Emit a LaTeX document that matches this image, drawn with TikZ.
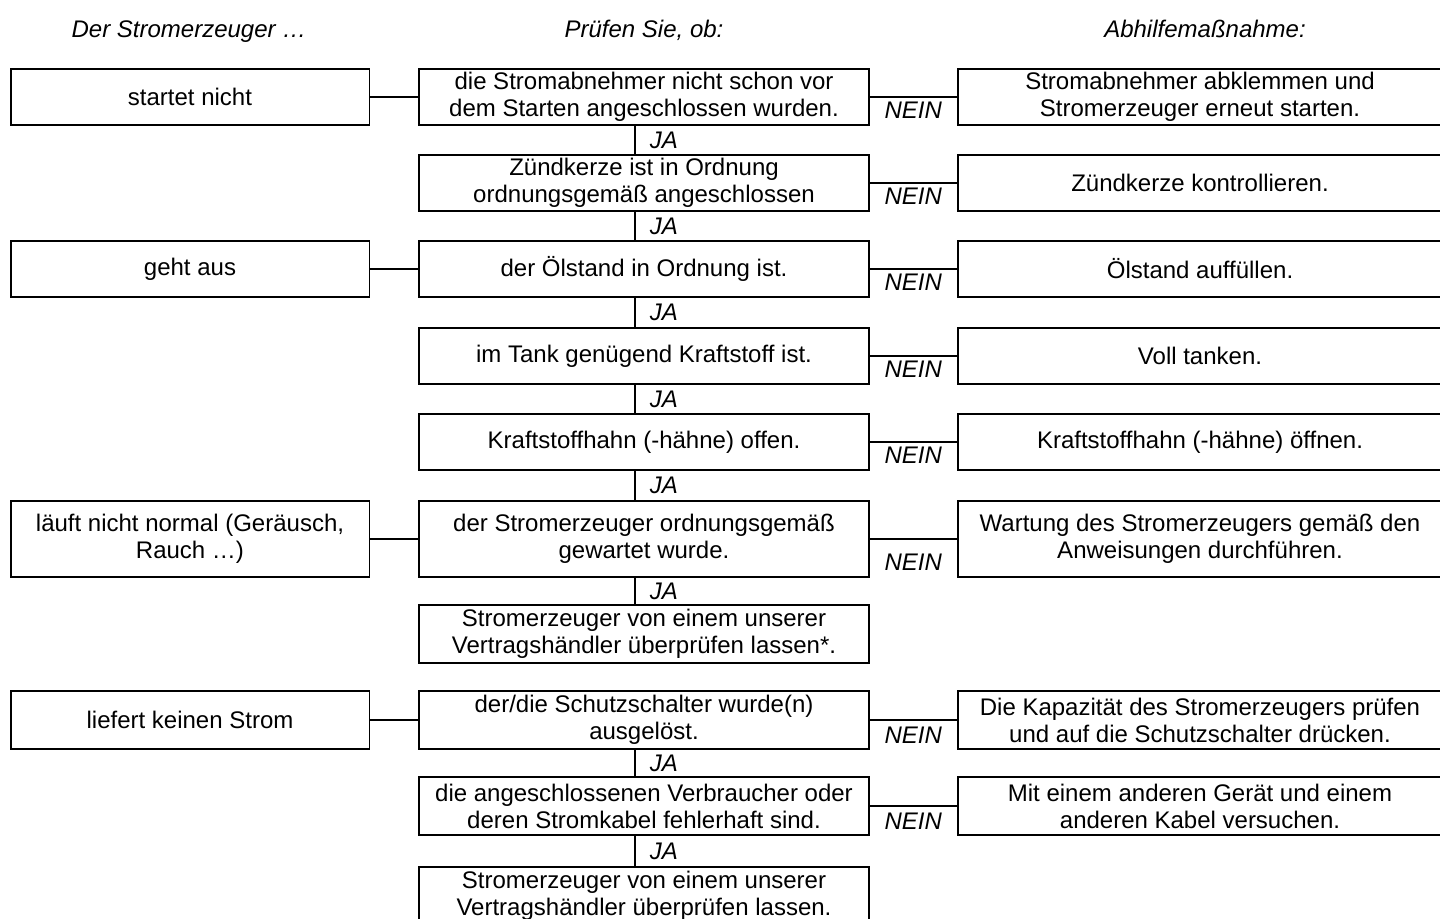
\documentclass[tikz,border=0pt]{standalone}
\usepackage{fontspec}
\setmainfont{Liberation Sans}
\usetikzlibrary{calc}
\newcommand{\chartfont}{\fontsize{13.66pt}{15.37pt}\selectfont}

\tikzset{
  box/.style={draw, line width=1.1pt, align=center, inner sep=0pt, outer sep=0pt,
              minimum height=1.12cm},
  lbox/.style={box, minimum width=7.18cm},
  mbox/.style={box, minimum width=9cm},
  rbox/.style={box, minimum width=9.7cm},
  head/.style={anchor=base, font=\chartfont\itshape},
  ja/.style={anchor=west, inner sep=0pt, xshift=0.28cm, font=\chartfont\itshape},
  nein/.style={anchor=base, inner sep=0pt, font=\chartfont\itshape},
}

\begin{document}
\begin{tikzpicture}[x=0.02cm, y=-0.02cm, font=\chartfont, line width=1.1pt]
  \clip (0,0) rectangle (1440,919);
  % column headings
  \node[head] (h1) at (189,38) {Der Stromerzeuger …};
  \node[head] (h2) at (644,38) {Prüfen Sie, ob:};
  \node[head] (h3) at (1205,38) {Abhilfemaßnahme:};
  % symptoms
  \node[lbox] (l1) at (190,97) {startet nicht};
  \node[lbox] (l3) at (190,269) {geht aus};
  \node[lbox, minimum height=1.52cm] (l6) at (190,539) {läuft nicht normal (Geräusch,\\ Rauch …)};
  \node[lbox, minimum height=1.16cm] (l8) at (190,720) {liefert keinen Strom};
  % checks
  \node[mbox] (m1) at (644,97) {die Stromabnehmer nicht schon vor\\ dem Starten angeschlossen wurden.};
  \node[mbox] (m2) at (644,183) {Zündkerze ist in Ordnung\\ ordnungsgemäß angeschlossen};
  \node[mbox] (m3) at (644,269) {der Ölstand in Ordnung ist.};
  \node[mbox] (m4) at (644,356) {im Tank genügend Kraftstoff ist.};
  \node[mbox] (m5) at (644,442) {Kraftstoffhahn (-hähne) offen.};
  \node[mbox, minimum height=1.52cm] (m6) at (644,539) {der Stromerzeuger ordnungsgemäß\\ gewartet wurde.};
  \node[mbox, minimum height=1.16cm] (m7) at (644,634) {Stromerzeuger von einem unserer\\ Vertragshändler überprüfen lassen*.};
  \node[mbox, minimum height=1.16cm] (m8) at (644,720) {der/die Schutzschalter wurde(n)\\ ausgelöst.};
  \node[mbox, minimum height=1.16cm] (m9) at (644,806) {die angeschlossenen Verbraucher oder\\ deren Stromkabel fehlerhaft sind.};
  \node[mbox, minimum height=1.16cm] (m10) at (644,896) {Stromerzeuger von einem unserer\\ Vertragshändler überprüfen lassen.};
  % remedies
  \node[rbox] (r1) at (1200,97) {Stromabnehmer abklemmen und\\ Stromerzeuger erneut starten.};
  \node[rbox] (r2) at (1200,183) {Zündkerze kontrollieren.};
  \node[rbox] (r3) at (1200,269) {Ölstand auffüllen.};
  \node[rbox] (r4) at (1200,356) {Voll tanken.};
  \node[rbox] (r5) at (1200,442) {Kraftstoffhahn (-hähne) öffnen.};
  \node[rbox, minimum height=1.52cm] (r6) at (1200,539) {Wartung des Stromerzeugers gemäß den\\ Anweisungen durchführen.};
  \node[rbox, minimum height=1.16cm] (r8) at (1200,720) {Die Kapazität des Stromerzeugers prüfen\\ und auf die Schutzschalter drücken.};
  \node[rbox, minimum height=1.16cm] (r9) at (1200,806) {Mit einem anderen Gerät und einem\\ anderen Kabel versuchen.};
  % symptom -> first check
  \draw (l1) -- (m1);
  \draw (l3) -- (m3);
  \draw (l6) -- (m6);
  \draw (l8) -- (m8);
  % JA chain
  \coordinate (spine) at (635,0);
  \foreach \a/\b in {m1/m2, m2/m3, m3/m4, m4/m5, m5/m6, m6/m7, m8/m9, m9/m10}
    \draw (\a.south -| spine) -- node[ja] (ja-\a) {JA} (\b.north -| spine);
  % NEIN branches
  \foreach \k in {1,2,3,4,5,6,8,9}{
    \draw (m\k) -- (r\k);
    \node[nein] (nein\k) at ($(m\k.south east)!.5!(r\k.south west)+(0,-6)$) {NEIN};
  }
\end{tikzpicture}
\end{document}
